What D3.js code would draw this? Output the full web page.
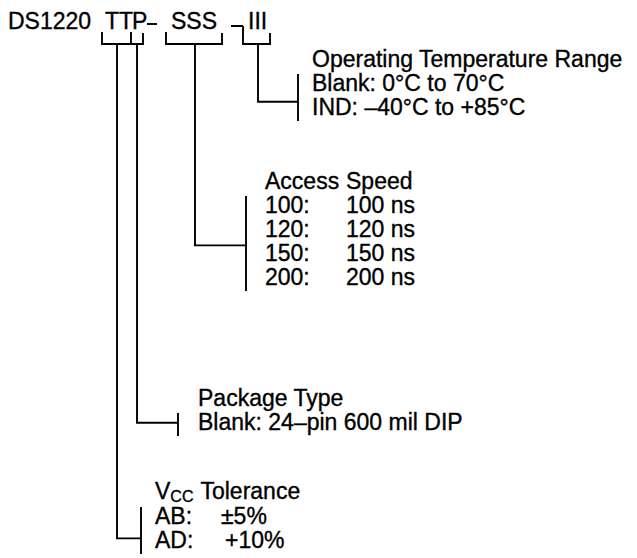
<!DOCTYPE html>
<html>
<head>
<meta charset="utf-8">
<script src="https://cdn.jsdelivr.net/npm/d3@7"></script>
<style>
  body { margin: 0; background: #fff; }
  svg { display: block; }
  text { font-family: "Liberation Sans", Arial, Helvetica, sans-serif; font-size: 23px; fill: #000; stroke: #000; stroke-width: 0.35px; }
</style>
</head>
<body>
<svg width="637" height="558"></svg>
<script>
// part number pieces
var partPrefix = "DS1220";
var partFields = ["TT", "P", "SSS", "III"];

var tempTitle = "Operating Temperature Range";
var tempOptions = ["Blank: 0°C to 70°C", "IND: –40°C to +85°C"];

var speedTitle = ["Access", "Speed"];
var speedCodes = ["100:", "120:", "150:", "200:"];
var speedValues = ["100 ns", "120 ns", "150 ns", "200 ns"];

var packageTitle = "Package Type";
var packageOptions = ["Blank: 24–pin 600 mil DIP"];

var vccTitle = ["V", "CC", "Tolerance"];
var vccCodes = ["AB:", "AD:"];
var vccValues = ["±5%", "+10%"];

var svg = d3.select("svg"),
    lineW = 1.9,
    lineH = 24;

// header text
svg.append("text").attr("x", 8).attr("y", 29).text(partPrefix);

var fieldX = d3.scaleOrdinal()
    .domain(partFields)
    .range([[102, 131], [131, 143], [166, 222], [243, 270]]);
var fieldText = d3.scaleOrdinal().domain(partFields).range([105, 132, 171, 248]);

svg.selectAll("text.field")
    .data(partFields)
    .enter().append("text")
      .attr("class", "field")
      .attr("x", function(d) { return fieldText(d); })
      .attr("y", 29)
      .text(function(d) { return d; });

// dash between P and SSS
svg.append("line").attr("x1", 147).attr("x2", 157).attr("y1", 24).attr("y2", 24)
    .attr("stroke", "#000").attr("stroke-width", lineW);

var bracketY = 44;
var path = d3.path();
partFields.forEach(function(f) {
  var r = fieldX(f);
  path.moveTo(r[0], f == "III" ? 26 : 32);
  path.lineTo(r[0], bracketY);
  path.lineTo(r[1], bracketY);
  path.lineTo(r[1], 33);
});
// hook before III
path.moveTo(231, 26); path.lineTo(243, 26);
svg.append("path").attr("d", path.toString())
    .attr("fill", "none").attr("stroke", "#000").attr("stroke-width", lineW);

// groups: field, drop x, title baseline, rows, join index, tick x, text x
var groups = [
  {field: "III", dropX: 258, titleY: 67, rows: tempOptions.length, join: 0.45, tickX: 298, textX: 312},
  {field: "SSS", dropX: 195, titleY: 189, rows: speedCodes.length, join: 1.35, tickX: 246, textX: 265},
  {field: "P", dropX: 137, titleY: 406, rows: packageOptions.length, join: -0.3, tickX: 178, textX: 198},
  {field: "TT", dropX: 117, titleY: 499, rows: vccCodes.length, join: 0.6, tickX: 141, textX: 155}
];

groups.forEach(function(g) {
  g.y = d3.scaleLinear().domain([0, 1]).range([g.titleY + lineH, g.titleY + 2 * lineH]);
  if (g.field == "TT") g.y.range([524, 548]);
  var jy = g.y(g.join);
  var p = d3.path();
  p.moveTo(g.dropX, bracketY);
  p.lineTo(g.dropX, jy);
  p.lineTo(g.tickX, jy);
  p.moveTo(g.tickX, g.y(0) - 17);
  p.lineTo(g.tickX, g.y(g.rows - 1) + 6);
  svg.append("path").attr("d", p.toString())
      .attr("fill", "none").attr("stroke", "#000").attr("stroke-width", lineW);
});

// temperature
var gt = groups[0];
svg.append("text").attr("x", gt.textX).attr("y", gt.titleY).text(tempTitle);
svg.selectAll("text.temp").data(tempOptions).enter().append("text")
    .attr("class", "temp")
    .attr("x", gt.textX)
    .attr("y", function(d, i) { return gt.y(i); })
    .text(function(d) { return d; });

// access speed
var gs = groups[1], valX = 346;
svg.append("text").attr("x", gs.textX).attr("y", gs.titleY).text(speedTitle[0]);
svg.append("text").attr("x", valX).attr("y", gs.titleY).text(speedTitle[1]);
svg.selectAll("text.code").data(speedCodes).enter().append("text")
    .attr("class", "code")
    .attr("x", gs.textX)
    .attr("y", function(d, i) { return gs.y(i); })
    .text(function(d) { return d; });
svg.selectAll("text.speed").data(speedValues).enter().append("text")
    .attr("class", "speed")
    .attr("x", valX)
    .attr("y", function(d, i) { return gs.y(i); })
    .text(function(d) { return d; });

// package
var gp = groups[2];
svg.append("text").attr("x", gp.textX).attr("y", gp.titleY).text(packageTitle);
svg.selectAll("text.pkg").data(packageOptions).enter().append("text")
    .attr("class", "pkg")
    .attr("x", gp.textX)
    .attr("y", function(d, i) { return gp.y(i); })
    .text(function(d) { return d; });

// vcc tolerance
var gv = groups[3];
var vt = svg.append("text").attr("x", gv.textX).attr("y", gv.titleY);
vt.append("tspan").text(vccTitle[0]);
vt.append("tspan").attr("dy", 3).style("font-size", "16px").text(vccTitle[1]);
vt.append("tspan").attr("dy", -3).attr("dx", 7).text(vccTitle[2]);
svg.selectAll("text.vcode").data(vccCodes).enter().append("text")
    .attr("class", "vcode")
    .attr("x", gv.textX)
    .attr("y", function(d, i) { return gv.y(i); })
    .text(function(d) { return d; });
svg.selectAll("text.vval").data(vccValues).enter().append("text")
    .attr("class", "vval")
    .attr("x", function(d, i) { return i == 0 ? 221 : 225; })
    .attr("y", function(d, i) { return gv.y(i); })
    .text(function(d) { return d; });
</script>
</body>
</html>
